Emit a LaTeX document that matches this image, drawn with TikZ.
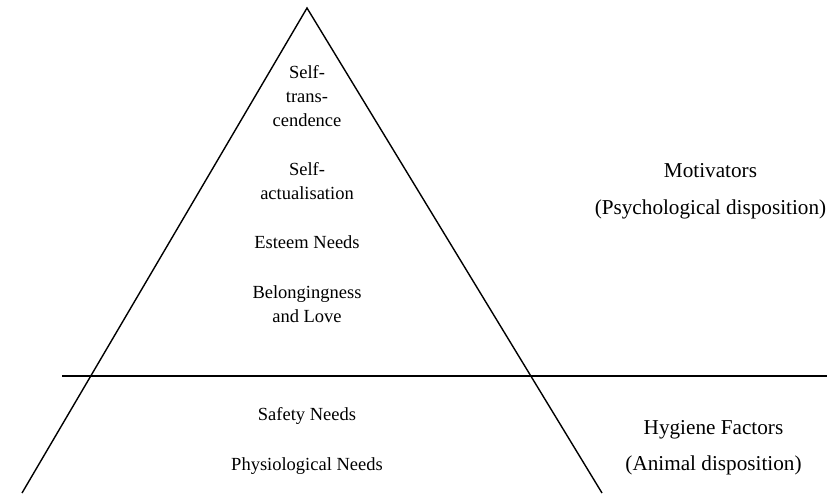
\documentclass[tikz,border=0pt]{standalone}
\usepackage{fontspec}
\setmainfont{Liberation Serif}
\begin{document}
\begin{tikzpicture}[x=1pt,y=-1pt,
    level/.style={align=center, font=\fontsize{18.5}{24}\selectfont},
    factor/.style={align=center, font=\fontsize{21.2}{36.5}\selectfont}]

        \useasboundingbox (0,0) rectangle (827,501);

        \draw[line width=1.4pt] (22,493) -- (307,8) -- (602,493);
        \draw[line width=2.2pt] (62,376) -- (827,376);

        \node[level] (transcend) at (307,96) {Self-\\trans-\\cendence};
        \node[level] (actual) at (307,181) {Self-\\actualisation};
        \node[level] (esteem) at (307,242) {Esteem Needs};
        \node[level] (belong) at (307,304) {Belongingness\\and Love};
        \node[level] (safety) at (307,416) {Safety Needs};
        \node[level] (physio) at (307,466) {Physiological Needs};

        \node[factor] (motiv) at (710.5,191.5) {Motivators\\(Psychological disposition)};
        \node[factor] (hygiene) at (713.5,447.5) {Hygiene Factors\\(Animal disposition)};

    \end{tikzpicture}
\end{document}
